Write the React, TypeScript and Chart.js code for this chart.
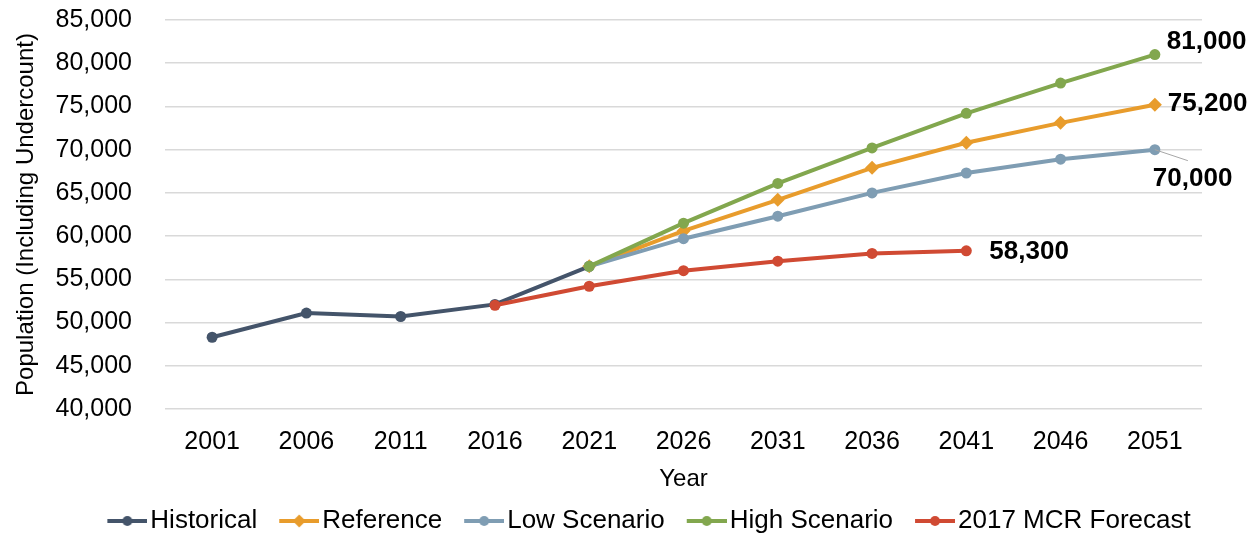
import React, { useEffect, useRef } from "react";
import { Chart, registerables } from "chart.js";

Chart.register(...registerables);

const years = ["2001", "2006", "2011", "2016", "2021", "2026", "2031", "2036", "2041", "2046", "2051"];
const historical = [48300, 51100, 50700, 52100, 56500, null, null, null, null, null, null];
const reference = [null, null, null, null, 56500, 60600, 64200, 67900, 70800, 73100, 75200];
const lowScenario = [null, null, null, null, 56500, 59700, 62300, 65000, 67300, 68900, 70000];
const highScenario = [null, null, null, null, 56500, 61500, 66100, 70200, 74200, 77700, 81000];
const mcrForecast = [null, null, null, 52000, 54200, 56000, 57100, 58000, 58300, null, null];

const seriesNames = ["Historical", "Reference", "Low Scenario", "High Scenario", "2017 MCR Forecast"];
const yMin = 40000;
const yMax = 85000;
const yStep = 5000;

const FONT = "'Liberation Sans', Arial, sans-serif";
const COLORS = ["#44546a", "#e89c2c", "#7f9db3", "#82a74e", "#d04a33"];
const STYLES = ["circle", "rectRot", "circle", "circle", "circle"];
// end-label placement (dataset index -> offset from the last point)
const LABEL_PLACEMENT: Record<number, { dx: number; dy: number; leader?: boolean }> = {
  1: { dx: 13, dy: -1 },
  2: { dx: -2, dy: 29, leader: true },
  3: { dx: 12, dy: -13 },
  4: { dx: 23, dy: 1 },
};

const fmt = (v: number) => v.toLocaleString("en-US");

function legendImage(color: string, style: string, boxW: number) {
  const w = boxW + 20;
  const h = 16;
  const c = document.createElement("canvas");
  c.width = w;
  c.height = h;
  const ctx = c.getContext("2d")!;
  const x1 = w - 40;
  const x2 = w;
  ctx.strokeStyle = color;
  ctx.lineWidth = 4;
  ctx.beginPath();
  ctx.moveTo(x1, h / 2);
  ctx.lineTo(x2, h / 2);
  ctx.stroke();
  ctx.fillStyle = color;
  const cx = (x1 + x2) / 2;
  ctx.beginPath();
  if (style === "rectRot") {
    const r = 6.5;
    ctx.moveTo(cx, h / 2 - r);
    ctx.lineTo(cx + r, h / 2);
    ctx.lineTo(cx, h / 2 + r);
    ctx.lineTo(cx - r, h / 2);
    ctx.closePath();
  } else {
    ctx.arc(cx, h / 2, 5, 0, Math.PI * 2);
  }
  ctx.fill();
  return c;
}

export default function App() {
  const ref = useRef<HTMLCanvasElement | null>(null);

  useEffect(() => {
    if (!ref.current) return;
    const series = [historical, reference, lowScenario, highScenario, mcrForecast];
    const orders = [4, 3, 2, 1, 0];
    const legendFs = 26;
    const legendBoxW = 30;
    const images = series.map((_, i) => legendImage(COLORS[i], STYLES[i], legendBoxW));

    const endLabelPlugin = {
      id: "endLabels",
      afterDatasetsDraw(chart: any) {
        const ctx = chart.ctx;
        ctx.save();
        Object.keys(LABEL_PLACEMENT).forEach((k) => {
          const i = Number(k);
          const p = LABEL_PLACEMENT[i];
          const data = series[i];
          let last = -1;
          data.forEach((v, j) => {
            if (v !== null) last = j;
          });
          const meta = chart.getDatasetMeta(i);
          const pt = meta.data[last];
          if (!pt) return;
          const x = pt.x;
          const y = pt.y;
          if (p.leader) {
            ctx.strokeStyle = "#a6a6a6";
            ctx.lineWidth = 1;
            ctx.beginPath();
            ctx.moveTo(x, y);
            ctx.lineTo(x + 33, y + 11);
            ctx.stroke();
          }
          ctx.fillStyle = "#000";
          ctx.font = `bold 26px ${FONT}`;
          ctx.textAlign = "left";
          ctx.textBaseline = "middle";
          ctx.fillText(fmt(data[last] as number), x + p.dx, y + p.dy);
        });
        ctx.restore();
      },
    };

    const legendShift = {
      id: "legendShift",
      afterLayout(chart: any) {
        const l = chart.legend;
        if (!l) return;
        l.left += 48;
        l.right += 48;
        l.top -= 6;
        l.bottom -= 6;
      },
    };

    const chart = new Chart(ref.current, {
      type: "line",
      data: {
        labels: years,
        datasets: series.map((d, i) => ({
          label: seriesNames[i],
          data: d,
          borderColor: COLORS[i],
          backgroundColor: COLORS[i],
          borderWidth: 4,
          pointStyle: STYLES[i] as any,
          pointRadius: STYLES[i] === "rectRot" ? 7 : 5.5,
          pointBorderWidth: 0,
          pointBackgroundColor: COLORS[i],
          tension: 0,
          spanGaps: false,
          order: orders[i],
        })),
      },
      options: {
        animation: false,
        responsive: false,
        maintainAspectRatio: false,
        layout: { padding: { top: 20, left: 0, right: 53, bottom: -17 } },
        plugins: {
          tooltip: { enabled: false },
          legend: {
            position: "bottom",
            labels: {
              usePointStyle: true,
              pointStyleWidth: legendBoxW,
              padding: 22,
              color: "#000",
              font: { family: FONT, size: legendFs },
              generateLabels: () =>
                seriesNames.map((name, i) => ({
                  text: name,
                  pointStyle: images[i] as any,
                  fillStyle: COLORS[i],
                  strokeStyle: COLORS[i],
                  lineWidth: 0,
                  hidden: false,
                  datasetIndex: i,
                  fontColor: "#000",
                })),
            },
          },
        },
        scales: {
          x: {
            type: "category",
            offset: true,
            grid: { display: false, drawTicks: false },
            border: { display: false },
            ticks: { color: "#000", font: { family: FONT, size: 25 }, padding: 18, maxRotation: 0, autoSkip: false },
            title: {
              display: true,
              text: "Year",
              color: "#000",
              font: { family: FONT, size: 24 },
              padding: { top: 0, bottom: -2 },
            },
            afterFit: (s: any) => {
              s.height = 83;
              s.paddingLeft = 0;
              s.paddingRight = 0;
            },
          },
          y: {
            min: yMin,
            max: yMax,
            grid: { color: "#d9d9d9", lineWidth: 1.5, drawTicks: false },
            border: { display: false },
            ticks: {
              stepSize: yStep,
              color: "#000",
              padding: 33,
              font: { family: FONT, size: 25 },
              callback: (v: any) => fmt(Number(v)),
            },
            title: {
              display: true,
              text: "Population (Including Undercount)",
              color: "#000",
              font: { family: FONT, size: 24 },
              padding: { top: 12, bottom: 0 },
            },
            afterFit: (s: any) => {
              s.width = 165;
              s.paddingTop = 0;
              s.paddingBottom = 0;
            },
          },
        },
      },
      plugins: [endLabelPlugin, legendShift],
    });
    return () => chart.destroy();
  }, []);

  return (
    <div style={{ position: "fixed", left: 0, top: 0, width: 1255, height: 533, background: "#fff" }}>
      <canvas ref={ref} width={1255} height={533} style={{ display: "block", width: 1255, height: 533 }} />
    </div>
  );
}
